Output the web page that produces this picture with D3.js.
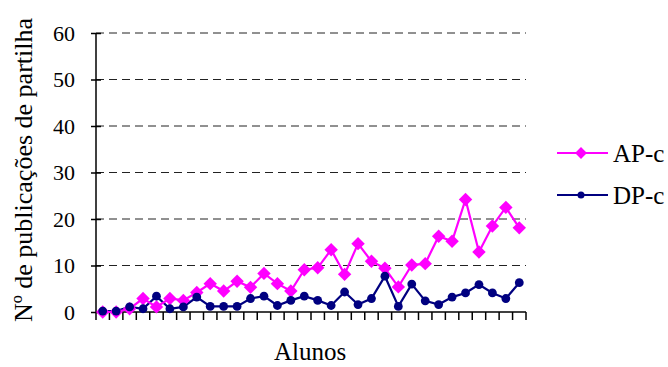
<!DOCTYPE html>
<html>
<head>
<meta charset="utf-8">
<script src="https://cdn.jsdelivr.net/npm/d3@7"></script>
<style>
  body { margin: 0; background: #fff; }
  svg { display: block; font-family: "Liberation Serif", "Times New Roman", serif; }
</style>
</head>
<body>
<svg width="668" height="367"></svg>
<script>
// values, one per student
var alunos = d3.range(1, 33);
var apc = [0, 0, 0.7, 2.9, 1.1, 2.9, 2.5, 4.2, 6.1, 4.5, 6.6, 5.3,
  8.3, 6.1, 4.5, 9.1, 9.5, 13.4, 8.1, 14.7, 10.9, 9.4, 5.4, 10.1,
  10.4, 16.3, 15.2, 24.2, 12.9, 18.5, 22.5, 18.1];
var dpc = [0.2, 0.2, 1.1, 0.7, 3.4, 0.7, 1.1, 3.2, 1.2, 1.2, 1.2, 2.9,
  3.4, 1.4, 2.5, 3.4, 2.5, 1.4, 4.3, 1.6, 2.9, 7.7, 1.2, 6.0,
  2.4, 1.6, 3.2, 4.1, 5.9, 4.1, 2.9, 6.3];
var yTicks = [0, 10, 20, 30, 40, 50, 60];

var svg = d3.select('svg');
var plot = {x0: 96, x1: 526, y0: 33, y1: 312};

var x = d3.scaleBand().domain(alunos).range([plot.x0, plot.x1]);
var y = d3.scaleLinear().domain([0, 60]).range([plot.y1, plot.y0]);
var cx = (d, i) => x(alunos[i]) + x.bandwidth() / 2;

// dashed grid
svg.append('g')
  .selectAll('line')
  .data(yTicks.filter(d => d > 0))
  .enter()
  .append('line')
  .attr('x1', plot.x0).attr('x2', plot.x1)
  .attr('y1', d => y(d)).attr('y2', d => y(d))
  .attr('stroke', '#222')
  .attr('stroke-width', 1)
  .attr('stroke-dasharray', '8,5');

// y axis, ticks crossing the line
var yAxis = svg.append('g')
  .attr('transform', `translate(${plot.x0},0)`)
  .call(d3.axisLeft(y).tickValues(yTicks).tickSize(5).tickPadding(16));
yAxis.select('.domain').attr('stroke-width', 1.5).attr('d', `M0,${plot.y0}V${plot.y1}`);
yAxis.selectAll('.tick line').attr('x1', 5).attr('stroke-width', 1.5);
yAxis.selectAll('text').attr('font-size', 22).attr('font-family', 'Liberation Serif').attr('fill', '#000');

// x axis: ticks between categories, no labels
var xg = svg.append('g');
xg.append('line')
  .attr('x1', plot.x0).attr('x2', plot.x1)
  .attr('y1', plot.y1).attr('y2', plot.y1)
  .attr('stroke', '#000').attr('stroke-width', 1.5);
xg.selectAll('.tk')
  .data(alunos.concat([33]))
  .enter()
  .append('line')
  .attr('class', 'tk')
  .attr('x1', (d, i) => plot.x0 + i * x.step())
  .attr('x2', (d, i) => plot.x0 + i * x.step())
  .attr('y1', plot.y1).attr('y2', plot.y1 + 8)
  .attr('stroke', '#000').attr('stroke-width', 1.5);

var line = d3.line()
  .x(cx)
  .y(d => y(d));

// DP-c series
svg.append('path')
  .datum(dpc)
  .attr('d', line)
  .attr('fill', 'none')
  .attr('stroke', '#000080')
  .attr('stroke-width', 2.2);

// AP-c series
svg.append('path')
  .datum(apc)
  .attr('d', line)
  .attr('fill', 'none')
  .attr('stroke', '#ff00ff')
  .attr('stroke-width', 2.2);

var diamond = d3.symbol().type(d3.symbolSquare).size(90);

svg.append('g')
  .selectAll('path')
  .data(apc)
  .enter()
  .append('path')
  .attr('d', diamond)
  .attr('transform', (d, i) => `translate(${cx(d, i)},${y(d)}) rotate(45)`)
  .attr('fill', '#ff00ff');

svg.append('g')
  .selectAll('circle')
  .data(dpc)
  .enter()
  .append('circle')
  .attr('cx', cx)
  .attr('cy', d => y(d))
  .attr('r', 4.4)
  .attr('fill', '#000080');

// legend
var legend = [
  {name: 'AP-c', color: '#ff00ff', shape: 'diamond', y: 153},
  {name: 'DP-c', color: '#000080', shape: 'circle', y: 195}
];
var lg = svg.append('g')
  .selectAll('g')
  .data(legend)
  .enter()
  .append('g')
  .attr('transform', d => `translate(0,${d.y})`);
lg.append('line')
  .attr('x1', 557).attr('x2', 608)
  .attr('stroke', d => d.color).attr('stroke-width', 2);
lg.filter(d => d.shape === 'diamond').append('path')
  .attr('d', d3.symbol().type(d3.symbolSquare).size(70))
  .attr('transform', 'translate(581,0) rotate(45)')
  .attr('fill', d => d.color);
lg.filter(d => d.shape === 'circle').append('circle')
  .attr('cx', 581).attr('r', 3.5)
  .attr('fill', d => d.color);
lg.append('text')
  .attr('x', 613).attr('y', 8.5)
  .attr('font-size', 25)
  .text(d => d.name);

// axis titles
svg.append('text')
  .attr('x', 310).attr('y', 360)
  .attr('text-anchor', 'middle')
  .attr('font-size', 25)
  .text('Alunos');

svg.append('text')
  .attr('transform', 'translate(32,170) rotate(-90)')
  .attr('text-anchor', 'middle')
  .attr('font-size', 26)
  .text('Nº de publicações de partilha');
</script>
</body>
</html>
